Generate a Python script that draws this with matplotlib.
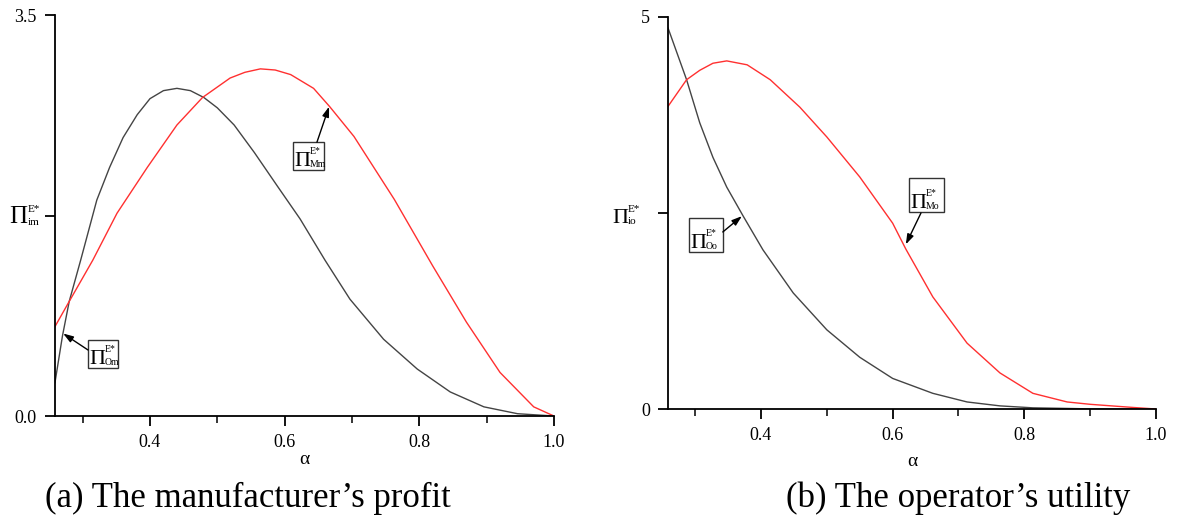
import numpy as np
import matplotlib
matplotlib.use('Agg')
import matplotlib.pyplot as plt
from matplotlib.ticker import MultipleLocator
from matplotlib.patches import Rectangle
from matplotlib.transforms import offset_copy, IdentityTransform

plt.rcParams['font.family'] = 'Liberation Serif'

# (a) manufacturer's profit
alpha_om = [0.2588, 0.27, 0.28, 0.297, 0.321, 0.340, 0.360, 0.381, 0.40, 0.42, 0.44, 0.46,
            0.48, 0.50, 0.525, 0.555, 0.59, 0.623, 0.66, 0.697, 0.747, 0.797, 0.846,
            0.896, 0.946, 1.0]
pi_om = [0.29, 0.70, 1.0, 1.36, 1.885, 2.17, 2.43, 2.63, 2.77, 2.84, 2.86, 2.84,
         2.78, 2.69, 2.54, 2.30, 2.0, 1.72, 1.36, 1.02, 0.67, 0.41, 0.21,
         0.08, 0.02, 0.0]

alpha_mm = [0.2588, 0.28, 0.315, 0.351, 0.396, 0.44, 0.478, 0.519, 0.541, 0.564, 0.586,
            0.609, 0.643, 0.667, 0.703, 0.763, 0.82, 0.87, 0.92, 0.97, 1.0]
pi_mm = [0.78, 1.0, 1.36, 1.77, 2.17, 2.54, 2.78, 2.95, 3.00, 3.03, 3.02,
         2.98, 2.86, 2.70, 2.44, 1.89, 1.31, 0.82, 0.38, 0.08, 0.0]

# (b) operator's utility
alpha_oo = [0.2588, 0.287, 0.307, 0.327, 0.348, 0.373, 0.403, 0.449, 0.50, 0.55, 0.60,
            0.661, 0.713, 0.763, 0.813, 0.90, 1.0]
pi_oo = [4.86, 4.20, 3.65, 3.21, 2.83, 2.46, 2.03, 1.48, 1.01, 0.66, 0.39,
         0.20, 0.09, 0.04, 0.015, 0.002, 0.0]

alpha_mo = [0.2588, 0.287, 0.307, 0.327, 0.348, 0.379, 0.414, 0.459, 0.50, 0.55, 0.60,
            0.62, 0.661, 0.713, 0.763, 0.813, 0.865, 0.90, 0.965, 1.0]
pi_mo = [3.86, 4.20, 4.32, 4.41, 4.44, 4.39, 4.20, 3.85, 3.47, 2.96, 2.37,
         2.04, 1.43, 0.84, 0.46, 0.20, 0.09, 0.06, 0.02, 0.0]

x_min = 0.2588
gray = '#444444'
red = '#ff3030'


def style_axes(ax, ymax, ylabels):
    ax.set_xlim(x_min, 1.0)
    ax.set_ylim(0, ymax)
    ax.spines['top'].set_visible(False)
    ax.spines['right'].set_visible(False)
    for s in ('left', 'bottom'):
        ax.spines[s].set_linewidth(1.3)
    ax.xaxis.set_minor_locator(MultipleLocator(0.1))
    ax.set_xticks([0.4, 0.6, 0.8, 1.0])
    ax.set_xticklabels(['0.4', '0.6', '0.8', '1.0'])
    ax.set_yticks([0, ymax / 2, ymax])
    ax.set_yticklabels(ylabels)
    ax.tick_params(direction='out', length=7, width=1.3, labelsize=13, pad=6)
    ax.tick_params(which='minor', direction='out', length=5, width=1.1)


def pi_symbol(fig, x, y, sup, sub, size=18, ssize=7, gap=10, sup_dy=12, sub_dy=-2,
              transform=None):
    # big Pi with small super/subscripts; x, y = Pi centre / baseline
    base = transform if transform is not None else IdentityTransform()
    def tr(dx, dy):
        return offset_copy(base, fig=fig, x=dx, y=dy, units='dots')
    fig.text(x, y, '\u03a0', transform=tr(0, 0), ha='center', va='baseline',
             fontsize=size, zorder=5)
    fig.text(x, y, sup, transform=tr(gap, sup_dy), ha='left', va='baseline',
             fontsize=ssize, zorder=5)
    fig.text(x, y, sub, transform=tr(gap, sub_dy), ha='left', va='baseline',
             fontsize=ssize, zorder=5)


def label_box(ax, box, sup, sub, tip, tail):
    x0, x1, y0, y1 = box
    ax.add_patch(Rectangle((x0, y0), x1 - x0, y1 - y0, fc='white', ec='#333333',
                           lw=1.0, zorder=3))
    anchor = offset_copy(ax.transData, fig=ax.figure, x=9, y=4, units='dots')
    pi_symbol(ax.figure, x0, y0, sup, sub, size=16, ssize=7, gap=8, sup_dy=12,
              sub_dy=-1, transform=anchor)
    ax.annotate('', xy=tip, xytext=tail,
                arrowprops=dict(arrowstyle='-|>,head_length=0.6,head_width=0.2',
                                color='black', lw=1.0, shrinkA=0, shrinkB=0))


fig = plt.figure(figsize=(11.79, 5.18), dpi=100)

ax1 = fig.add_axes([0.0466, 0.1969, 0.4232, 0.7741])
ax1.plot(alpha_om, pi_om, color=gray, lw=1.0)
ax1.plot(alpha_mm, pi_mm, color=red, lw=1.0)
style_axes(ax1, 3.5, ['0.0', '', '3.5'])
label_box(ax1, (0.6124, 0.6585, 2.147, 2.39), 'E*', 'Mm', (0.666, 2.70), (0.648, 2.39))
label_box(ax1, (0.308, 0.3525, 0.419, 0.663), 'E*', 'Om', (0.271, 0.72), (0.308, 0.576))

ax2 = fig.add_axes([0.5666, 0.2104, 0.4139, 0.7568])
ax2.plot(alpha_oo, pi_oo, color=gray, lw=1.0)
ax2.plot(alpha_mo, pi_mo, color=red, lw=1.0)
style_axes(ax2, 5, ['0', '', '5'])
label_box(ax2, (0.2906, 0.3423, 2.003, 2.436), 'E*', 'Oo', (0.371, 2.46), (0.342, 2.258))
label_box(ax2, (0.6248, 0.678, 2.513, 2.946), 'E*', 'Mo', (0.62, 2.10), (0.643, 2.50))

# y labels drawn at the middle tick, in pixel coordinates
pi_symbol(fig, 18, 518 - 223, 'E*', 'im', size=18, ssize=8, gap=10, sup_dy=11, sub_dy=-2)
pi_symbol(fig, 620, 518 - 223, 'E*', 'io', size=16, ssize=8, gap=8, sup_dy=11, sub_dy=-1)

fig.text(304 / 1179, 1 - 460 / 518, '\u03b1', fontsize=14, ha='center', va='center')
fig.text(912 / 1179, 1 - 462 / 518, '\u03b1', fontsize=14, ha='center', va='center')

fig.text(0.210, 0.0212, '(a) The manufacturer\u2019s profit', fontsize=25,
         ha='center', va='baseline')
fig.text(0.8126, 0.0212, '(b) The operator\u2019s utility', fontsize=25,
         ha='center', va='baseline')

fig.savefig('out.png', dpi=100)
